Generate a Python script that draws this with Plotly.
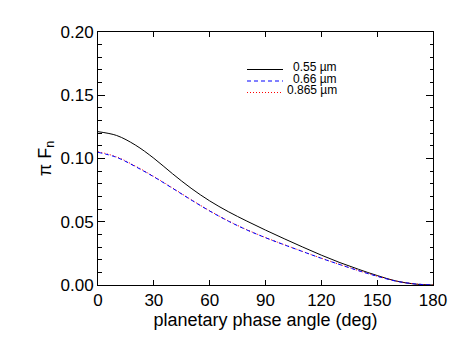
import plotly.graph_objects as go

# ---- data ----
phase_deg = [0, 10, 20, 30, 40, 50, 60, 70, 80, 90, 100, 110, 120, 130, 140, 150, 160, 170, 180]
flux_055 = [0.1212, 0.1182, 0.1107, 0.1002, 0.0880, 0.0765, 0.0665, 0.0580, 0.0505, 0.0434,
            0.0366, 0.0300, 0.0236, 0.0177, 0.0124, 0.0075, 0.0032, 0.0008, 0.0]
flux_066 = [0.1049, 0.1009, 0.0937, 0.0855, 0.0765, 0.0673, 0.0585, 0.0505, 0.0435, 0.0374,
            0.0318, 0.0264, 0.0211, 0.0161, 0.0113, 0.0069, 0.0031, 0.0009, 0.0]
flux_0865 = [0.1054, 0.1013, 0.0941, 0.0858, 0.0768, 0.0675, 0.0587, 0.0507, 0.0437, 0.0375,
             0.0319, 0.0265, 0.0212, 0.0162, 0.0114, 0.0070, 0.0032, 0.0009, 0.0]
series_names = ["0.55 \u00b5m", "0.66 \u00b5m", "0.865 \u00b5m"]
x_ticks = [0, 30, 60, 90, 120, 150, 180]
y_ticks = [0.00, 0.05, 0.10, 0.15, 0.20]
y_tick_labels = ["0.00", "0.05", "0.10", "0.15", "0.20"]

# page body has an 8px margin in the browser
OFF = 8
W, H = 463 - OFF, 348 - OFF
L, R, T, B = 98 - OFF, 30, 32 - OFF, 63
PW, PH = W - L - R, H - T - B

styles = [
    dict(color="black", width=1, dash="solid"),
    dict(color="blue", width=1, dash="4px,3px"),
    dict(color="red", width=1, dash="1px,2px"),
]
ys = [flux_055, flux_066, flux_0865]

fig = go.Figure()
# draw order: black, red, blue (blue dashes on top like the reference)
for i in [0, 2, 1]:
    fig.add_trace(go.Scatter(x=phase_deg, y=ys[i], mode="lines", name=series_names[i],
                             line=dict(shape="spline", smoothing=1.0, **styles[i]),
                             showlegend=False))

def px2paper(px, py):
    # px, py are screen pixels in the 463x348 window
    return (px - OFF - L) / PW, (H + OFF - B - py) / PH

# compact legend like the reference
leg_rows = [67, 78.5, 90]
for name, st, py in zip(series_names, styles, leg_rows):
    x0, y0 = px2paper(247, py + 2.5)
    x1, _ = px2paper(283, py + 2.5)
    fig.add_shape(type="line", xref="paper", yref="paper", x0=x0, x1=x1, y0=y0, y1=y0,
                  line=dict(color=st["color"], width=1, dash=st["dash"]))
    tx, ty = px2paper(339, py)
    fig.add_annotation(xref="paper", yref="paper", x=tx, y=ty, text=name, showarrow=False,
                       xanchor="right", yanchor="middle",
                       font=dict(family="Liberation Sans, Arial", size=12, color="black"))

tick_font = dict(family="Liberation Sans, Arial", size=17, color="black")
title_font = dict(family="Liberation Sans, Arial", size=18, color="black")
fig.update_layout(
    width=W, height=H,
    margin=dict(l=L, r=R, t=T, b=B, autoexpand=False),
    paper_bgcolor="white", plot_bgcolor="white",
    font=tick_font,
    xaxis=dict(range=[0, 180], tickvals=x_ticks, ticks="inside", ticklen=5, tickwidth=1,
               tickcolor="black", showline=True, linecolor="black", linewidth=1,
               mirror="ticks", showgrid=False, zeroline=False, tickfont=tick_font,
               title=dict(text="planetary phase angle (deg)", font=title_font, standoff=0)),
    yaxis=dict(range=[0, 0.2], tickvals=y_ticks, ticktext=y_tick_labels, ticks="inside",
               ticklen=7, tickwidth=1, tickcolor="black", showline=True, linecolor="black",
               linewidth=1, mirror="ticks", showgrid=False, zeroline=False, tickfont=tick_font,
               minor=dict(dtick=0.01, ticks="inside", ticklen=3.5, tickcolor="black", showgrid=False),
               title=dict(text="\u03c0 F<sub>n</sub>", font=title_font, standoff=4)),
)

fig.write_html("out.html")
